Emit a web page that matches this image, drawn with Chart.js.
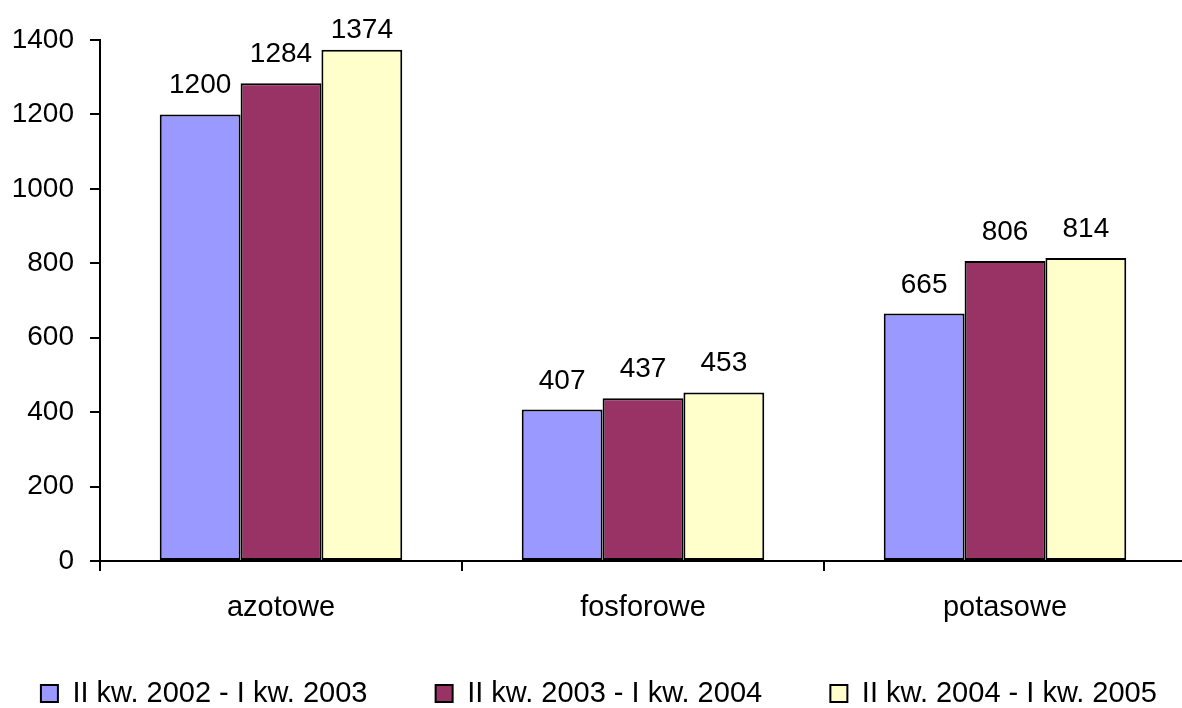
<!DOCTYPE html>
<html>
<head>
<meta charset="utf-8">
<script src="https://cdn.jsdelivr.net/npm/chart.js@4/dist/chart.umd.min.js"></script>
<style>
  html, body { margin: 0; padding: 0; background: #fff; overflow: hidden; }
  #wrap { width: 1182px; height: 708px; overflow: hidden; }
</style>
</head>
<body>
<div id="wrap"><canvas id="chart" width="1230" height="718"></canvas></div>
<script>
// data
const categories = ['azotowe', 'fosforowe', 'potasowe'];
const seriesNames = ['II kw. 2002 - I kw. 2003', 'II kw. 2003 - I kw. 2004', 'II kw. 2004 - I kw. 2005'];
const values2003 = [1200, 407, 665];
const values2004 = [1284, 437, 806];
const values2005 = [1374, 453, 814];
const colors = ['#9999FF', '#993366', '#FFFFCC'];

Chart.defaults.color = '#000';
Chart.defaults.font.family = '"Liberation Sans", Arial, sans-serif';

// draws the value above every bar
const valueLabels = {
    id: 'valueLabels',
    afterDatasetsDraw(chart) {
        const ctx = chart.ctx;
        ctx.save();
        ctx.font = '28px "Liberation Sans", Arial, sans-serif';
        ctx.fillStyle = '#000';
        ctx.textAlign = 'center';
        ctx.textBaseline = 'alphabetic';
        chart.data.datasets.forEach((ds, i) => {
            chart.getDatasetMeta(i).data.forEach((bar, j) => {
                const y = Math.max(bar.y - 21, 38);
                ctx.fillText(String(ds.data[j]), bar.x, y);
            });
        });
        ctx.restore();
    }
};

const allValues = [values2003, values2004, values2005];

new Chart(document.getElementById('chart'), {
    type: 'bar',
    data: {
        labels: categories,
        datasets: allValues.map((vals, i) => ({
            label: seriesNames[i],
            data: vals,
            backgroundColor: colors[i],
            borderColor: '#000',
            borderWidth: 2,
            borderSkipped: false,
            barPercentage: 1,
            categoryPercentage: 0.67
        }))
    },
    options: {
        responsive: false,
        animation: false,
        layout: { padding: { top: 40, right: 0, left: 0, bottom: 0 } },
        plugins: {
            tooltip: { enabled: false },
            legend: {
                position: 'bottom',
                labels: {
                    boxWidth: 17,
                    boxHeight: 17,
                    padding: 36,
                    font: { size: 29 },
                    // extra room after each entry, like the Excel legend spacing
                    generateLabels: (chart) => Chart.defaults.plugins.legend.labels.generateLabels(chart)
                        .map(item => ({ ...item, text: item.text + '\u00A0\u00A0\u00A0\u00A0' }))
                }
            }
        },
        scales: {
            x: {
                afterFit: (s) => { s.height = 82; },
                grid: {
                    offset: true,
                    drawOnChartArea: false,
                    color: '#000',
                    lineWidth: 2,
                    tickLength: 10
                },
                border: { color: '#000', width: 2 },
                ticks: { font: { size: 29 }, padding: 20 }
            },
            y: {
                min: 0,
                max: 1400,
                afterFit: (s) => { s.width = 100; },
                grid: {
                    drawOnChartArea: false,
                    color: '#000',
                    lineWidth: 2,
                    tickLength: 10
                },
                border: { color: '#000', width: 2 },
                ticks: { stepSize: 200, font: { size: 28 }, padding: 16, callback: (v) => String(v) }
            },
            // empty spacer on the right so the plot ends where the page ends
            spacer: {
                type: 'linear',
                position: 'right',
                afterFit: (s) => { s.width = 44; },
                grid: { display: false },
                border: { display: false },
                ticks: { display: false }
            }
        }
    },
    plugins: [valueLabels]
});
</script>
</body>
</html>
